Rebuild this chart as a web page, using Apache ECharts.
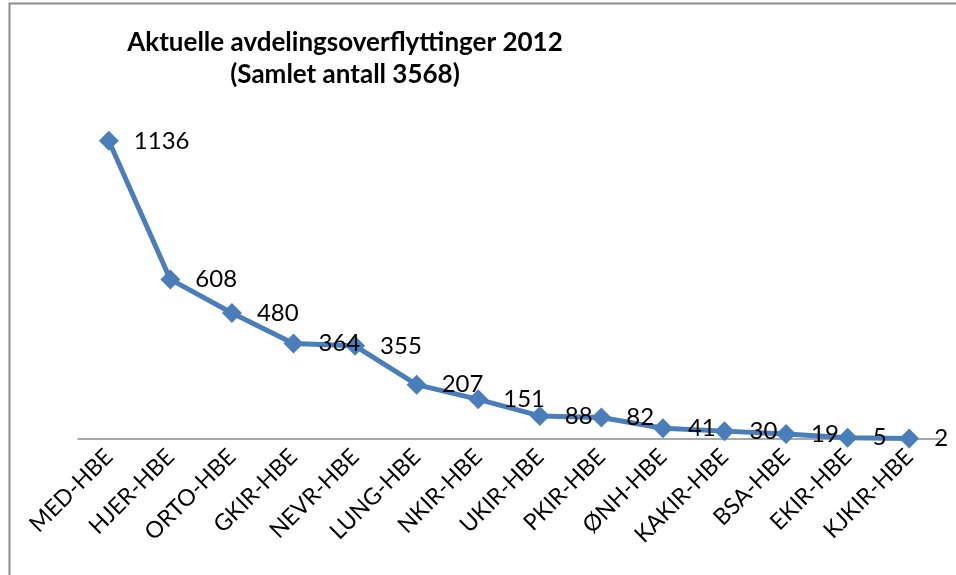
<!DOCTYPE html>
<html>
<head>
<meta charset="utf-8">
<script src="https://cdn.jsdelivr.net/npm/echarts@6/dist/echarts.min.js"></script>
<style>
  html, body { margin: 0; padding: 0; background: #fff; }
  #chart { width: 956px; height: 575px; }
</style>
</head>
<body>
<div id="chart"></div>
<script>
// Avdelinger (kategoriakse)
const avdelinger = ['MED-HBE', 'HJER-HBE', 'ORTO-HBE', 'GKIR-HBE', 'NEVR-HBE', 'LUNG-HBE', 'NKIR-HBE',
  'UKIR-HBE', 'PKIR-HBE', 'ØNH-HBE', 'KAKIR-HBE', 'BSA-HBE', 'EKIR-HBE', 'KJKIR-HBE'];
// Antall overflyttinger per avdeling
const overflyttinger = [1136, 608, 480, 364, 355, 207, 151, 88, 82, 41, 30, 19, 5, 2];

const tittel = ['Aktuelle avdelingsoverflyttinger 2012', '(Samlet antall 3568)'];

const chart = echarts.init(document.getElementById('chart'));
const blue = '#4A7EBB';
const font = 'Lato, Carlito, Calibri, sans-serif';

chart.setOption({
  backgroundColor: '#ffffff',
  animation: false,
  title: {
    text: tittel.join('\n'),
    left: 340,
    top: 22,
    textAlign: 'center',
    textStyle: {
      fontFamily: font,
      fontWeight: 'bold',
      fontSize: 26,
      lineHeight: 32,
      color: '#000'
    }
  },
  graphic: [
    {
      type: 'polyline',
      shape: { points: [[9.5, 575], [9.5, 3.5], [956, 3.5]] },
      style: { stroke: '#8c8c8c', lineWidth: 2, fill: null },
      silent: true
    }
  ],
  grid: { left: 78, right: 16, top: 124, bottom: 136, containLabel: false },
  xAxis: {
    type: 'category',
    data: avdelinger,
    boundaryGap: true,
    axisLine: { lineStyle: { color: '#8c8c8c', width: 1.5 } },
    axisTick: { show: false },
    axisLabel: {
      rotate: 45,
      interval: 0,
      margin: 14,
      fontFamily: font,
      fontSize: 23,
      color: '#000'
    }
  },
  yAxis: {
    type: 'value',
    min: 0,
    max: 1200,
    show: false,
    splitLine: { show: false }
  },
  series: [{
    type: 'line',
    data: overflyttinger,
    symbol: 'diamond',
    symbolSize: 20,
    lineStyle: { color: blue, width: 5 },
    itemStyle: { color: blue },
    label: {
      show: true,
      position: 'right',
      distance: 15,
      fontFamily: font,
      fontSize: 24,
      color: '#000'
    }
  }]
});
</script>
</body>
</html>
